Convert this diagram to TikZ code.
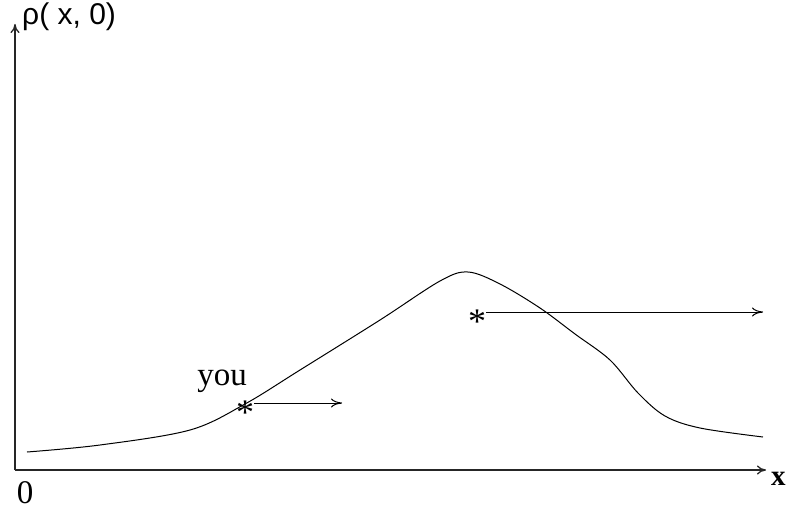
\documentclass[tikz,border=0pt]{standalone}
\usepackage{fontspec}
\setmainfont{Liberation Serif}
\newfontfamily\labelsans{Liberation Sans}
\usetikzlibrary{arrows.meta}
\tikzset{
  axis/.style={line width=1.3pt, black!85, -{To[length=9pt,width=9pt]}},
  flow/.style={line width=1pt, -{To[length=11pt,width=9pt]}},
  mark star/.style={inner sep=0pt, font=\fontsize{36}{36}\selectfont},
  lbl/.style={inner sep=0pt, font=\fontsize{33}{36}\selectfont}
}
\begin{document}
\begin{tikzpicture}[x=1pt, y=-1pt]
  \useasboundingbox (0,0) rectangle (786,511);
  % axes
  \coordinate (origin) at (15,470);
  \coordinate (ytop) at (15,24);
  \coordinate (xend) at (766,470);
  \draw[axis] (origin) -- (ytop);
  \draw[axis] (origin) -- (xend);
  \node[lbl, font=\fontsize{30}{32}\labelsans, anchor=west] (ylabel) at (22,17) {ρ( x, 0)};
  \node[lbl, anchor=west, font=\fontsize{29}{32}\selectfont\bfseries] (xlabel) at (771,479) {x};
  \node[lbl, anchor=base, font=\fontsize{33}{36}\selectfont] (zero) at (25,503) {0};
  % density profile
  \draw[line width=1pt] plot[smooth, tension=0.55] coordinates {
    (27,452) (100,445) (190,430) (245,404) (300,370) (380,320) (440,281)
    (468,272) (500,284) (540,308) (575,334) (610,360) (638,393) (665,416)
    (700,428) (763,437)};
  % observers
  \node[mark star] (you) at (245,413) {*};
  \node[mark star] (far) at (477,322) {*};
  \node[lbl] (youlabel) at (222,381) {you};
  \coordinate (youend) at (342,403);
  \coordinate (farend) at (763,312);
  \draw[flow] (you.east |- youend) -- (youend);
  \draw[flow] (far.east |- farend) -- (farend);
\end{tikzpicture}
\end{document}
